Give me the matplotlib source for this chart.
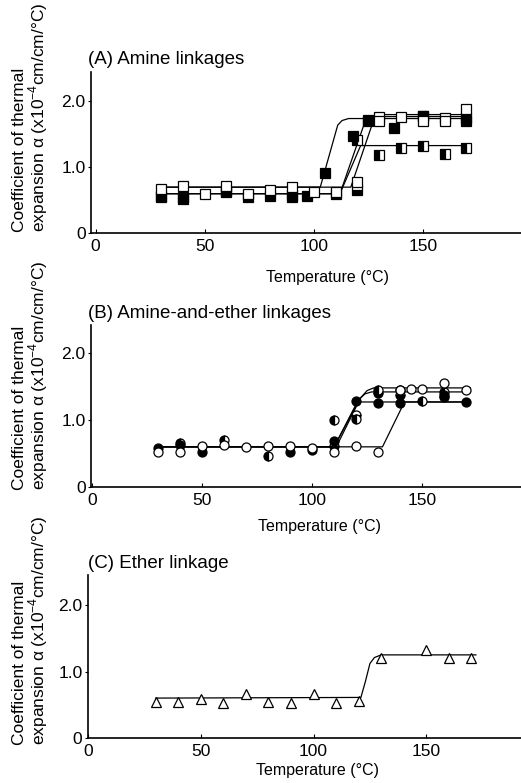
import matplotlib
matplotlib.use("Agg")
import matplotlib.pyplot as plt

plt.rcParams['font.family'] = ['Liberation Sans', 'DejaVu Sans']
plt.rcParams['mathtext.fontset'] = 'custom'
plt.rcParams['mathtext.rm'] = 'Liberation Sans'
plt.rcParams['font.size'] = 11

# ---------------- data ----------------
# (A) Amine linkages
a_open_T = [30, 40, 50, 60, 70, 80, 90, 100, 110, 120, 130, 140, 150, 160, 170]
a_open_v = [0.67, 0.72, 0.60, 0.72, 0.60, 0.65, 0.70, 0.63, 0.63, 0.78, 1.70, 1.77, 1.70, 1.70, 1.88]
a_fill_T = [30, 40, 60, 90, 97, 105, 118, 125, 137, 150, 170]
a_fill_v = [0.55, 0.55, 0.64, 0.55, 0.57, 0.92, 1.48, 1.72, 1.60, 1.78, 1.75]
a_bot_T = [30, 40, 60, 70, 80, 90, 110, 120, 125, 130, 150, 160, 170]
a_bot_v = [0.57, 0.52, 0.63, 0.55, 0.57, 0.58, 0.60, 0.65, 1.70, 1.76, 1.78, 1.75, 1.70]
a_left_T = [120, 130, 140, 150, 160, 170]
a_left_v = [1.42, 1.18, 1.30, 1.32, 1.20, 1.30]

# fitted curves (knots)
a_fit_T = [[30, 103, 111, 113, 116, 172],
           [30, 112, 124, 126, 172],
           [30, 117, 128, 130, 172],
           [30, 112, 121.5, 172]]
a_fit_v = [[0.70, 0.70, 1.64, 1.71, 1.74, 1.74],
           [0.60, 0.60, 1.74, 1.77, 1.77],
           [0.70, 0.70, 1.77, 1.80, 1.80],
           [0.60, 0.60, 1.33, 1.33]]

# (B) Amine-and-ether linkages
b_open_T = [30, 40, 50, 60, 70, 80, 90, 100, 110, 120, 130, 140, 145, 150, 160, 170]
b_open_v = [0.52, 0.53, 0.62, 0.63, 0.60, 0.62, 0.62, 0.58, 0.52, 0.62, 0.52, 1.45, 1.47, 1.47, 1.55, 1.45]
b_fill_T = [30, 40, 50, 90, 100, 110, 120, 130, 140, 160, 170]
b_fill_v = [0.58, 0.63, 0.52, 0.52, 0.55, 0.68, 1.28, 1.25, 1.25, 1.37, 1.27]
b_left_T = [40, 60, 80, 110, 120, 130, 140, 150, 160]
b_left_v = [0.65, 0.70, 0.47, 1.00, 1.02, 1.45, 1.45, 1.28, 1.42]
b_bot_T = [110, 120, 130, 140, 160]
b_bot_v = [0.62, 1.07, 1.40, 1.38, 1.35]

b_fit_T = [[30, 110, 121, 172],
           [30, 110, 121, 124, 127, 172],
           [30, 111, 122, 125, 128, 172],
           [30, 132, 142, 172]]
b_fit_v = [[0.60, 0.60, 1.27, 1.27],
           [0.60, 0.60, 1.30, 1.39, 1.42, 1.42],
           [0.60, 0.60, 1.33, 1.44, 1.48, 1.48],
           [0.60, 0.60, 1.27, 1.27]]

# (C) Ether linkage
c_T = [30, 40, 50, 60, 70, 80, 90, 100, 110, 120, 130, 150, 160, 170]
c_v = [0.54, 0.54, 0.59, 0.53, 0.66, 0.54, 0.53, 0.66, 0.52, 0.56, 1.20, 1.32, 1.20, 1.21]
c_fit_T = [30, 121, 123, 125, 127, 130, 172]
c_fit_v = [0.60, 0.61, 0.85, 1.12, 1.21, 1.25, 1.25]

ylabel = 'Coefficient of thermal\nexpansion α (x10$^{-4}$cm/cm/°C)'


def setup(ax, xlim, ylim):
    ax.set_xlim(*xlim)
    ax.set_ylim(*ylim)
    for s in ['top', 'right']:
        ax.spines[s].set_visible(False)
    ax.spines['left'].set_linewidth(1.2)
    ax.spines['bottom'].set_linewidth(1.2)
    ax.set_xticks([0, 50, 100, 150])
    ax.set_xticklabels(['0', '50', '100', '150'])
    ax.set_yticks([0, 1.0, 2.0])
    ax.set_yticklabels(['0', '1.0', '2.0'])
    ax.tick_params(axis='x', direction='in', length=3, pad=4, labelsize=12.5)
    ax.tick_params(axis='y', direction='out', length=2, pad=2, labelsize=12.5)


def fits(ax, Ts, vs):
    for T, v in zip(Ts, vs):
        ax.plot(T, v, color='black', lw=0.9, zorder=2)


mk = dict(color='black', markeredgecolor='black', markeredgewidth=0.9,
          linestyle='none', zorder=3)

fig = plt.figure(figsize=(5.21, 7.83), dpi=100)

# ---- (A) ----
axA = fig.add_axes([0.175, 0.702, 0.825, 0.2056])
setup(axA, (-2, 195), (0, 2.44))
fits(axA, a_fit_T, a_fit_v)
axA.plot(a_bot_T, a_bot_v, marker='s', ms=6.5, fillstyle='bottom',
         markerfacecoloralt='white', **mk)
axA.plot(a_left_T, a_left_v, marker='s', ms=6.5, fillstyle='left',
         markerfacecoloralt='white', **mk)
axA.plot(a_fill_T, a_fill_v, marker='s', ms=6.5, markerfacecolor='black', **mk)
axA.plot(a_open_T, a_open_v, marker='s', ms=6.5, markerfacecolor='white', **mk)

# ---- (B) ----
axB = fig.add_axes([0.175, 0.378, 0.825, 0.207])
setup(axB, (-0.5, 195), (0, 2.42))
fits(axB, b_fit_T, b_fit_v)
axB.plot(b_bot_T, b_bot_v, marker='o', ms=6.5, fillstyle='bottom',
         markerfacecoloralt='white', **mk)
axB.plot(b_left_T, b_left_v, marker='o', ms=6.5, fillstyle='left',
         markerfacecoloralt='white', **mk)
axB.plot(b_fill_T, b_fill_v, marker='o', ms=6.5, markerfacecolor='black', **mk)
axB.plot(b_open_T, b_open_v, marker='o', ms=6.5, markerfacecolor='white', **mk)

# ---- (C) ----
axC = fig.add_axes([0.169, 0.0575, 0.831, 0.208])
setup(axC, (0, 192), (0, 2.45))
axC.plot(c_fit_T, c_fit_v, color='black', lw=0.9, zorder=2)
axC.plot(c_T, c_v, marker='^', ms=6.5, markerfacecolor='white', **mk)

# titles, labels
for y, t in [(60, '(A) Amine linkages'), (313, '(B) Amine-and-ether linkages'),
             (563, '(C) Ether linkage')]:
    fig.text(88 / 521, 1 - y / 783, t, ha='left', va='center', fontsize=13.5)

for y, x in [(278, 327), (526, 320), (771, 318)]:
    fig.text(x / 521, 1 - y / 783, 'Temperature (°C)', ha='center', va='center',
             fontsize=11.5)

for yb in [232, 490, 745]:
    fig.text(31 / 521, 1 - yb / 783, ylabel, rotation=90, ha='center',
             va='bottom', multialignment='left', fontsize=12.5, linespacing=1.0)

fig.savefig('out.png', dpi=100)
